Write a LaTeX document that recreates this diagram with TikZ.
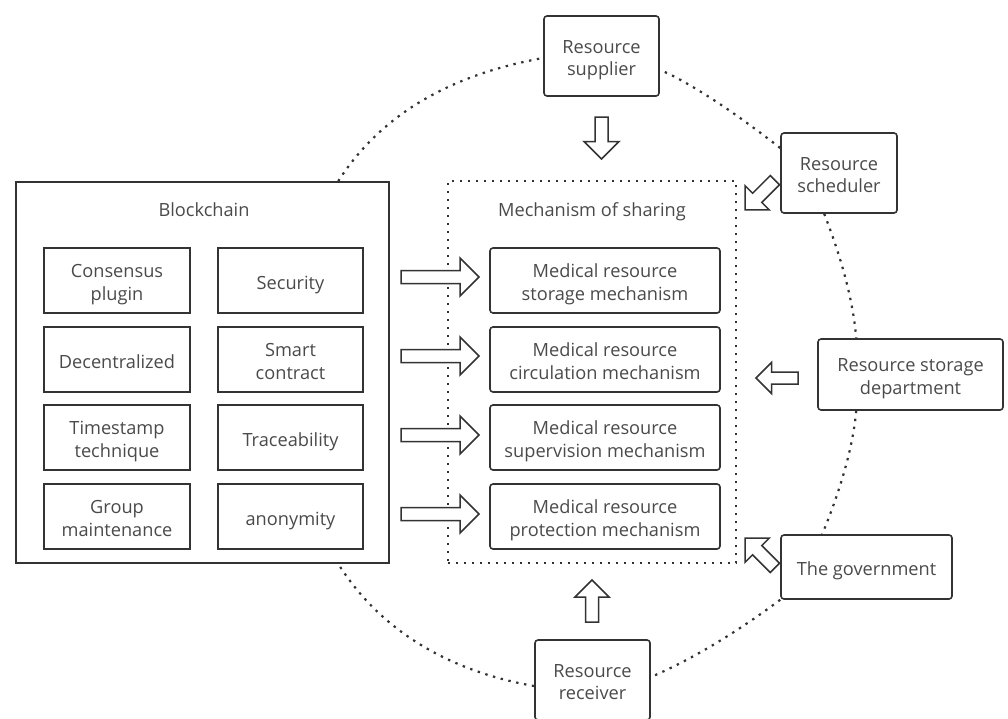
\documentclass[tikz,border=0pt]{standalone}
\usepackage{fontspec}
\setmainfont{Open Sans}
\usetikzlibrary{calc}
\definecolor{linec}{HTML}{333333}
\definecolor{textc}{HTML}{4A4A4A}
\newcommand{\tx}[1]{\raisebox{-4pt}[\height][\depth]{\begin{tabular}{@{}c@{}}#1\end{tabular}}}
\tikzset{
  lbl/.style={font=\fontsize{18.2}{22.5}\selectfont, text=textc, inner sep=0pt},
  rbox/.style={lbl, draw=linec, line width=1.6pt, rounded corners=3pt},
  sbox/.style={lbl, draw=linec, line width=1.6pt},
  dotline/.style={draw=linec, line width=2.2pt, dash pattern=on 2.4pt off 5.6pt},
  arrowline/.style={draw=linec, line width=1.5pt, fill=white, line join=miter},
  pics/barrow/.style n args={3}{code={
    \draw[arrowline] (-#1/2,-#2/2) -- (#1/2-#3/2,-#2/2) -- (#1/2-#3/2,-#3/2) -- (#1/2,0)
      -- (#1/2-#3/2,#3/2) -- (#1/2-#3/2,#2/2) -- (-#1/2,#2/2) -- cycle;
  }}
}
\begin{document}
\begin{tikzpicture}[x=1pt,y=-1pt]
\useasboundingbox (0,0) rectangle (1008,718);
\begin{scope}
\clip (0,0) rectangle (1008,718);
% outer boxes
\node[rbox, minimum width=115, minimum height=80] (sup) at (601.5,56) {\tx{Resource\\supplier}};
\node[rbox, minimum width=116, minimum height=80] (sch) at (839,173) {\tx{Resource\\scheduler}};
\node[rbox, minimum width=185, minimum height=71] (sto) at (910.5,374.5) {\tx{Resource storage\\department}};
\node[rbox, minimum width=171, minimum height=64] (gov) at (866.5,567) {\tx{The government}};
\node[rbox, minimum width=115, minimum height=80] (rec) at (592.5,680) {\tx{Resource\\receiver}};
\node[draw=linec, line width=1.6pt, minimum width=373, minimum height=381] (bc) at (202.5,372.5) {};
\node[lbl] (bct) at (204,208) {\tx{Blockchain}};
\node[dotline, minimum width=288, minimum height=382] (mech) at (592,372) {};
\node[lbl] (mecht) at (592,208) {\tx{Mechanism of sharing}};
% blockchain inner boxes
\node[sbox, minimum width=146, minimum height=65] (b1) at (117,280.5) {\tx{Consensus\\plugin}};
\node[sbox, minimum width=145, minimum height=65] (b2) at (290.5,280.5) {\tx{Security}};
\node[sbox, minimum width=146, minimum height=65] (b3) at (117,359.5) {\tx{Decentralized}};
\node[sbox, minimum width=145, minimum height=65] (b4) at (290.5,359.5) {\tx{Smart\\contract}};
\node[sbox, minimum width=146, minimum height=65] (b5) at (117,437.5) {\tx{Timestamp\\technique}};
\node[sbox, minimum width=145, minimum height=65] (b6) at (290.5,437.5) {\tx{Traceability}};
\node[sbox, minimum width=146, minimum height=65] (b7) at (117,516.5) {\tx{Group\\maintenance}};
\node[sbox, minimum width=145, minimum height=65] (b8) at (290.5,516.5) {\tx{anonymity}};
% mechanism inner boxes
\node[rbox, minimum width=230, minimum height=65] (m1) at (605,280.5) {\tx{Medical resource\\storage mechanism}};
\node[rbox, minimum width=230, minimum height=65] (m2) at (605,359.5) {\tx{Medical resource\\circulation mechanism}};
\node[rbox, minimum width=230, minimum height=65] (m3) at (605,437.5) {\tx{Medical resource\\supervision mechanism}};
\node[rbox, minimum width=230, minimum height=65] (m4) at (605,516.5) {\tx{Medical resource\\protection mechanism}};
% dotted ring segments
\draw[dotline] ($(bc.north west)+(323,0)$) .. controls (380,116) and (448,75) .. ($(sup.west)+(0,2)$);
\draw[dotline] ($(sup.east)+(5,16)$) .. controls (689,83) and (729,108) .. ($(sch.west)+(0,-25)$);
\draw[dotline] ($(sch.south west)+(44,0)$) .. controls (843,262) and (853.5,304) .. ($(sto.north west)+(39,0)$);
\draw[dotline] ($(sto.south west)+(39,0)$) .. controls (853.5,442) and (843,484) .. ($(gov.north west)+(42,0)$);
\draw[dotline] (gov.south west) .. controls (729,638) and (684,663) .. ($(rec.east)+(0,-3)$);
\draw[dotline] ($(rec.west)+(0,6)$) .. controls (448,671) and (380,630) .. ($(bc.south west)+(323,0)$);
% block arrows
\pic[rotate=-90] at (601.5,138) {barrow={42}{13}{35}};
\pic[rotate=90] at (592,601) {barrow={42}{13}{34}};
\pic[rotate=180] at (777,378) {barrow={42}{12}{31}};
\pic[rotate=225] at (760,195) {barrow={42}{13}{34}};
\pic[rotate=135] at (760,553) {barrow={42}{13}{34}};
\pic at (440,277) {barrow={78}{13}{38}};
\pic at (440,356) {barrow={78}{13}{38}};
\pic at (440,435) {barrow={78}{13}{38}};
\pic at (440,514) {barrow={78}{13}{38}};
\end{scope}
\end{tikzpicture}
\end{document}
